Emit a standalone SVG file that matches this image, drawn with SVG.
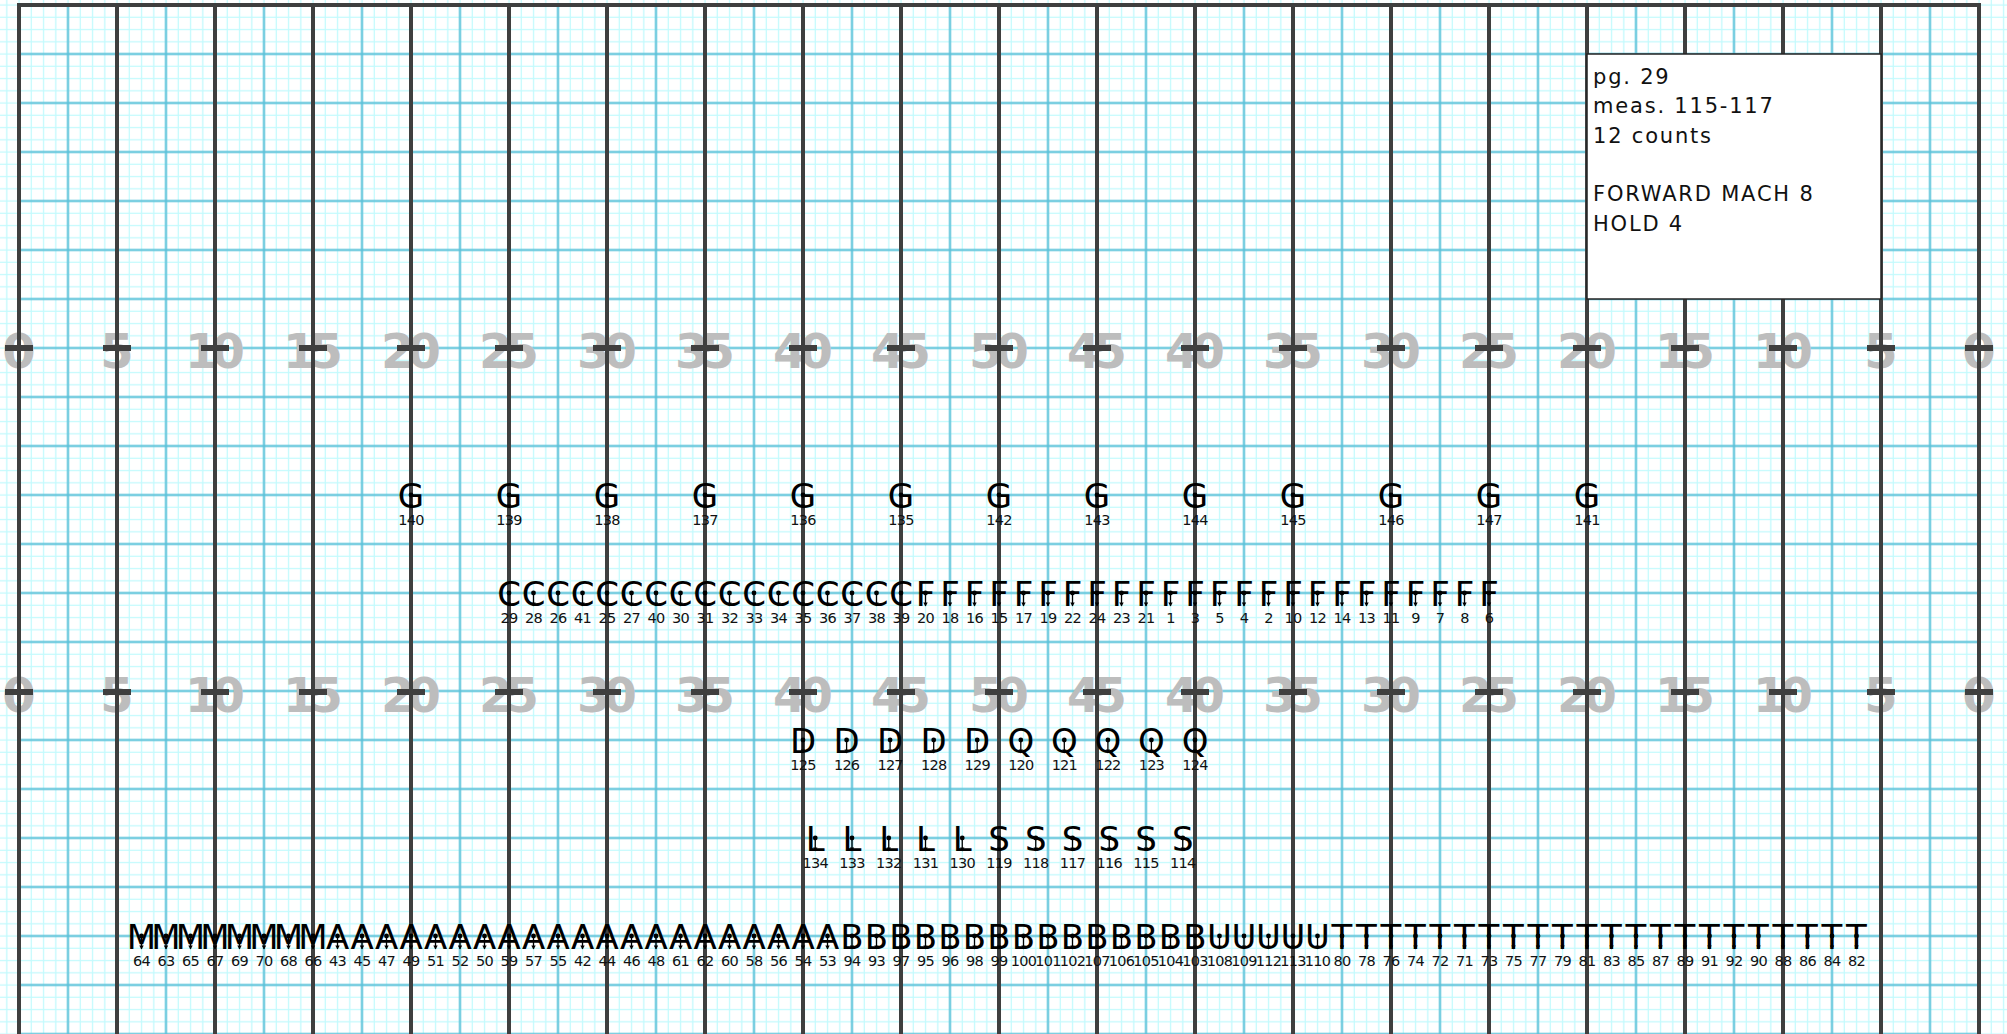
<svg xmlns="http://www.w3.org/2000/svg" xmlns:xlink="http://www.w3.org/1999/xlink" width="2007" height="1034" viewBox="0 0 2007 1034">
<style>
.s{font-family:"DejaVu Sans",sans-serif;font-size:34px;text-anchor:middle;fill:#000}
.l{font-family:"DejaVu Sans",sans-serif;font-size:14.5px;text-anchor:middle;letter-spacing:-0.8px;fill:#111}
.yn{font-family:"DejaVu Sans",sans-serif;font-weight:bold;font-size:48px;text-anchor:middle;letter-spacing:-7px;fill:#bdbdbd}
.bx{font-family:"DejaVu Sans",sans-serif;font-size:21px;letter-spacing:1.8px;fill:#111}
</style>
<defs>
<pattern id="light" patternUnits="userSpaceOnUse" x="12.875" y="-1.125" width="49" height="49">
<path d="M6.125 0V49M18.375 0V49M30.625 0V49M42.875 0V49M0 6.125H49M0 18.375H49M0 30.625H49M0 42.875H49" stroke="#c3fafd" stroke-width="1.3" fill="none"/>
</pattern>
<pattern id="med" patternUnits="userSpaceOnUse" x="-5.5" y="-19.5" width="49" height="49">
<path d="M24.5 0V49M0 24.5H49" stroke="#5cc0d8" stroke-width="2" fill="none"/>
</pattern>
<g id="pin">
<line x1="0" y1="0" x2="0" y2="13" stroke="#000" stroke-width="1.3"/>
<circle r="2.4" fill="#000"/>
<path d="M-2.2 9.5L0 13.5L2.2 9.5Z" fill="#000"/>
</g>
</defs>
<g id="field">
<rect x="0" y="0" width="2007" height="1034" fill="#fff"/>
<rect x="0" y="0" width="2007" height="1034" fill="url(#light)"/>
<rect x="19" y="5" width="1960" height="1029" fill="url(#med)"/>
<g id="yard-numbers" class="yn">
<text x="15.5" y="368">0</text><text x="113.5" y="368">5</text><text x="211.5" y="368">10</text><text x="309.5" y="368">15</text><text x="407.5" y="368">20</text><text x="505.5" y="368">25</text><text x="603.5" y="368">30</text><text x="701.5" y="368">35</text><text x="799.5" y="368">40</text><text x="897.5" y="368">45</text><text x="995.5" y="368">50</text><text x="1093.5" y="368">45</text><text x="1191.5" y="368">40</text><text x="1289.5" y="368">35</text><text x="1387.5" y="368">30</text><text x="1485.5" y="368">25</text><text x="1583.5" y="368">20</text><text x="1681.5" y="368">15</text><text x="1779.5" y="368">10</text><text x="1877.5" y="368">5</text><text x="1975.5" y="368">0</text>
<text x="15.5" y="712">0</text><text x="113.5" y="712">5</text><text x="211.5" y="712">10</text><text x="309.5" y="712">15</text><text x="407.5" y="712">20</text><text x="505.5" y="712">25</text><text x="603.5" y="712">30</text><text x="701.5" y="712">35</text><text x="799.5" y="712">40</text><text x="897.5" y="712">45</text><text x="995.5" y="712">50</text><text x="1093.5" y="712">45</text><text x="1191.5" y="712">40</text><text x="1289.5" y="712">35</text><text x="1387.5" y="712">30</text><text x="1485.5" y="712">25</text><text x="1583.5" y="712">20</text><text x="1681.5" y="712">15</text><text x="1779.5" y="712">10</text><text x="1877.5" y="712">5</text><text x="1975.5" y="712">0</text>
</g>
<path id="yard-lines" fill="none" stroke="#3f3f3f" stroke-width="4" d="M19 1034V5H1979V1034M117 5V1034M215 5V1034M313 5V1034M411 5V1034M509 5V1034M607 5V1034M705 5V1034M803 5V1034M901 5V1034M999 5V1034M1097 5V1034M1195 5V1034M1293 5V1034M1391 5V1034M1489 5V1034M1587 5V1034M1685 5V1034M1783 5V1034M1881 5V1034"/>
<path id="hashes" fill="none" stroke="#3f3f3f" stroke-width="6" d="M5 348H33M103 348H131M201 348H229M299 348H327M397 348H425M495 348H523M593 348H621M691 348H719M789 348H817M887 348H915M985 348H1013M1083 348H1111M1181 348H1209M1279 348H1307M1377 348H1405M1475 348H1503M1573 348H1601M1671 348H1699M1769 348H1797M1867 348H1895M1965 348H1993M5 692H33M103 692H131M201 692H229M299 692H327M397 692H425M495 692H523M593 692H621M691 692H719M789 692H817M887 692H915M985 692H1013M1083 692H1111M1181 692H1209M1279 692H1307M1377 692H1405M1475 692H1503M1573 692H1601M1671 692H1699M1769 692H1797M1867 692H1895M1965 692H1993"/>
</g>
<g id="info-box">
<rect x="1587" y="54" width="294" height="245" fill="#fff" stroke="#222" stroke-width="1.5"/>
<text class="bx" x="1593" y="84">pg. 29</text>
<text class="bx" x="1593" y="113.3">meas. 115-117</text>
<text class="bx" x="1593" y="142.6">12 counts</text>
<text class="bx" x="1593" y="201.2">FORWARD MACH 8</text>
<text class="bx" x="1593" y="230.5">HOLD 4</text>
</g>
<g id="row-G">
<g id="p140" transform="translate(411,495)"><text class="s" y="12.5">G</text><use href="#pin"/><text class="l" y="30">140</text></g>
<g id="p139" transform="translate(509,495)"><text class="s" y="12.5">G</text><use href="#pin"/><text class="l" y="30">139</text></g>
<g id="p138" transform="translate(607,495)"><text class="s" y="12.5">G</text><use href="#pin"/><text class="l" y="30">138</text></g>
<g id="p137" transform="translate(705,495)"><text class="s" y="12.5">G</text><use href="#pin"/><text class="l" y="30">137</text></g>
<g id="p136" transform="translate(803,495)"><text class="s" y="12.5">G</text><use href="#pin"/><text class="l" y="30">136</text></g>
<g id="p135" transform="translate(901,495)"><text class="s" y="12.5">G</text><use href="#pin"/><text class="l" y="30">135</text></g>
<g id="p142" transform="translate(999,495)"><text class="s" y="12.5">G</text><use href="#pin"/><text class="l" y="30">142</text></g>
<g id="p143" transform="translate(1097,495)"><text class="s" y="12.5">G</text><use href="#pin"/><text class="l" y="30">143</text></g>
<g id="p144" transform="translate(1195,495)"><text class="s" y="12.5">G</text><use href="#pin"/><text class="l" y="30">144</text></g>
<g id="p145" transform="translate(1293,495)"><text class="s" y="12.5">G</text><use href="#pin"/><text class="l" y="30">145</text></g>
<g id="p146" transform="translate(1391,495)"><text class="s" y="12.5">G</text><use href="#pin"/><text class="l" y="30">146</text></g>
<g id="p147" transform="translate(1489,495)"><text class="s" y="12.5">G</text><use href="#pin"/><text class="l" y="30">147</text></g>
<g id="p141" transform="translate(1587,495)"><text class="s" y="12.5">G</text><use href="#pin"/><text class="l" y="30">141</text></g>
</g>
<g id="row-CF">
<g id="p29" transform="translate(509,593)"><text class="s" y="12.5">C</text><use href="#pin"/><text class="l" y="30">29</text></g>
<g id="p28" transform="translate(533.5,593)"><text class="s" y="12.5">C</text><use href="#pin"/><text class="l" y="30">28</text></g>
<g id="p26" transform="translate(558,593)"><text class="s" y="12.5">C</text><use href="#pin"/><text class="l" y="30">26</text></g>
<g id="p41" transform="translate(582.5,593)"><text class="s" y="12.5">C</text><use href="#pin"/><text class="l" y="30">41</text></g>
<g id="p25" transform="translate(607,593)"><text class="s" y="12.5">C</text><use href="#pin"/><text class="l" y="30">25</text></g>
<g id="p27" transform="translate(631.5,593)"><text class="s" y="12.5">C</text><use href="#pin"/><text class="l" y="30">27</text></g>
<g id="p40" transform="translate(656,593)"><text class="s" y="12.5">C</text><use href="#pin"/><text class="l" y="30">40</text></g>
<g id="p30" transform="translate(680.5,593)"><text class="s" y="12.5">C</text><use href="#pin"/><text class="l" y="30">30</text></g>
<g id="p31" transform="translate(705,593)"><text class="s" y="12.5">C</text><use href="#pin"/><text class="l" y="30">31</text></g>
<g id="p32" transform="translate(729.5,593)"><text class="s" y="12.5">C</text><use href="#pin"/><text class="l" y="30">32</text></g>
<g id="p33" transform="translate(754,593)"><text class="s" y="12.5">C</text><use href="#pin"/><text class="l" y="30">33</text></g>
<g id="p34" transform="translate(778.5,593)"><text class="s" y="12.5">C</text><use href="#pin"/><text class="l" y="30">34</text></g>
<g id="p35" transform="translate(803,593)"><text class="s" y="12.5">C</text><use href="#pin"/><text class="l" y="30">35</text></g>
<g id="p36" transform="translate(827.5,593)"><text class="s" y="12.5">C</text><use href="#pin"/><text class="l" y="30">36</text></g>
<g id="p37" transform="translate(852,593)"><text class="s" y="12.5">C</text><use href="#pin"/><text class="l" y="30">37</text></g>
<g id="p38" transform="translate(876.5,593)"><text class="s" y="12.5">C</text><use href="#pin"/><text class="l" y="30">38</text></g>
<g id="p39" transform="translate(901,593)"><text class="s" y="12.5">C</text><use href="#pin"/><text class="l" y="30">39</text></g>
<g id="p20" transform="translate(925.5,593)"><text class="s" y="12.5">F</text><use href="#pin"/><text class="l" y="30">20</text></g>
<g id="p18" transform="translate(950,593)"><text class="s" y="12.5">F</text><use href="#pin"/><text class="l" y="30">18</text></g>
<g id="p16" transform="translate(974.5,593)"><text class="s" y="12.5">F</text><use href="#pin"/><text class="l" y="30">16</text></g>
<g id="p15" transform="translate(999,593)"><text class="s" y="12.5">F</text><use href="#pin"/><text class="l" y="30">15</text></g>
<g id="p17" transform="translate(1023.5,593)"><text class="s" y="12.5">F</text><use href="#pin"/><text class="l" y="30">17</text></g>
<g id="p19" transform="translate(1048,593)"><text class="s" y="12.5">F</text><use href="#pin"/><text class="l" y="30">19</text></g>
<g id="p22" transform="translate(1072.5,593)"><text class="s" y="12.5">F</text><use href="#pin"/><text class="l" y="30">22</text></g>
<g id="p24" transform="translate(1097,593)"><text class="s" y="12.5">F</text><use href="#pin"/><text class="l" y="30">24</text></g>
<g id="p23" transform="translate(1121.5,593)"><text class="s" y="12.5">F</text><use href="#pin"/><text class="l" y="30">23</text></g>
<g id="p21" transform="translate(1146,593)"><text class="s" y="12.5">F</text><use href="#pin"/><text class="l" y="30">21</text></g>
<g id="p1" transform="translate(1170.5,593)"><text class="s" y="12.5">F</text><use href="#pin"/><text class="l" y="30">1</text></g>
<g id="p3" transform="translate(1195,593)"><text class="s" y="12.5">F</text><use href="#pin"/><text class="l" y="30">3</text></g>
<g id="p5" transform="translate(1219.5,593)"><text class="s" y="12.5">F</text><use href="#pin"/><text class="l" y="30">5</text></g>
<g id="p4" transform="translate(1244,593)"><text class="s" y="12.5">F</text><use href="#pin"/><text class="l" y="30">4</text></g>
<g id="p2" transform="translate(1268.5,593)"><text class="s" y="12.5">F</text><use href="#pin"/><text class="l" y="30">2</text></g>
<g id="p10" transform="translate(1293,593)"><text class="s" y="12.5">F</text><use href="#pin"/><text class="l" y="30">10</text></g>
<g id="p12" transform="translate(1317.5,593)"><text class="s" y="12.5">F</text><use href="#pin"/><text class="l" y="30">12</text></g>
<g id="p14" transform="translate(1342,593)"><text class="s" y="12.5">F</text><use href="#pin"/><text class="l" y="30">14</text></g>
<g id="p13" transform="translate(1366.5,593)"><text class="s" y="12.5">F</text><use href="#pin"/><text class="l" y="30">13</text></g>
<g id="p11" transform="translate(1391,593)"><text class="s" y="12.5">F</text><use href="#pin"/><text class="l" y="30">11</text></g>
<g id="p9" transform="translate(1415.5,593)"><text class="s" y="12.5">F</text><use href="#pin"/><text class="l" y="30">9</text></g>
<g id="p7" transform="translate(1440,593)"><text class="s" y="12.5">F</text><use href="#pin"/><text class="l" y="30">7</text></g>
<g id="p8" transform="translate(1464.5,593)"><text class="s" y="12.5">F</text><use href="#pin"/><text class="l" y="30">8</text></g>
<g id="p6" transform="translate(1489,593)"><text class="s" y="12.5">F</text><use href="#pin"/><text class="l" y="30">6</text></g>
</g>
<g id="row-DQ">
<g id="p125" transform="translate(803,740)"><text class="s" y="12.5">D</text><use href="#pin"/><text class="l" y="30">125</text></g>
<g id="p126" transform="translate(846.6,740)"><text class="s" y="12.5">D</text><use href="#pin"/><text class="l" y="30">126</text></g>
<g id="p127" transform="translate(890.1,740)"><text class="s" y="12.5">D</text><use href="#pin"/><text class="l" y="30">127</text></g>
<g id="p128" transform="translate(933.7,740)"><text class="s" y="12.5">D</text><use href="#pin"/><text class="l" y="30">128</text></g>
<g id="p129" transform="translate(977.2,740)"><text class="s" y="12.5">D</text><use href="#pin"/><text class="l" y="30">129</text></g>
<g id="p120" transform="translate(1020.8,740)"><text class="s" y="12.5">Q</text><use href="#pin"/><text class="l" y="30">120</text></g>
<g id="p121" transform="translate(1064.3,740)"><text class="s" y="12.5">Q</text><use href="#pin"/><text class="l" y="30">121</text></g>
<g id="p122" transform="translate(1107.9,740)"><text class="s" y="12.5">Q</text><use href="#pin"/><text class="l" y="30">122</text></g>
<g id="p123" transform="translate(1151.4,740)"><text class="s" y="12.5">Q</text><use href="#pin"/><text class="l" y="30">123</text></g>
<g id="p124" transform="translate(1195,740)"><text class="s" y="12.5">Q</text><use href="#pin"/><text class="l" y="30">124</text></g>
</g>
<g id="row-LS">
<g id="p134" transform="translate(815.25,838)"><text class="s" y="12.5">L</text><use href="#pin"/><text class="l" y="30">134</text></g>
<g id="p133" transform="translate(852,838)"><text class="s" y="12.5">L</text><use href="#pin"/><text class="l" y="30">133</text></g>
<g id="p132" transform="translate(888.75,838)"><text class="s" y="12.5">L</text><use href="#pin"/><text class="l" y="30">132</text></g>
<g id="p131" transform="translate(925.5,838)"><text class="s" y="12.5">L</text><use href="#pin"/><text class="l" y="30">131</text></g>
<g id="p130" transform="translate(962.25,838)"><text class="s" y="12.5">L</text><use href="#pin"/><text class="l" y="30">130</text></g>
<g id="p119" transform="translate(999,838)"><text class="s" y="12.5">S</text><use href="#pin"/><text class="l" y="30">119</text></g>
<g id="p118" transform="translate(1035.75,838)"><text class="s" y="12.5">S</text><use href="#pin"/><text class="l" y="30">118</text></g>
<g id="p117" transform="translate(1072.5,838)"><text class="s" y="12.5">S</text><use href="#pin"/><text class="l" y="30">117</text></g>
<g id="p116" transform="translate(1109.25,838)"><text class="s" y="12.5">S</text><use href="#pin"/><text class="l" y="30">116</text></g>
<g id="p115" transform="translate(1146,838)"><text class="s" y="12.5">S</text><use href="#pin"/><text class="l" y="30">115</text></g>
<g id="p114" transform="translate(1182.75,838)"><text class="s" y="12.5">S</text><use href="#pin"/><text class="l" y="30">114</text></g>
</g>
<g id="row-bottom">
<g id="p64" transform="translate(141.5,936)"><text class="s" y="12.5">M</text><use href="#pin"/><text class="l" y="30">64</text></g>
<g id="p63" transform="translate(166,936)"><text class="s" y="12.5">M</text><use href="#pin"/><text class="l" y="30">63</text></g>
<g id="p65" transform="translate(190.5,936)"><text class="s" y="12.5">M</text><use href="#pin"/><text class="l" y="30">65</text></g>
<g id="p67" transform="translate(215,936)"><text class="s" y="12.5">M</text><use href="#pin"/><text class="l" y="30">67</text></g>
<g id="p69" transform="translate(239.5,936)"><text class="s" y="12.5">M</text><use href="#pin"/><text class="l" y="30">69</text></g>
<g id="p70" transform="translate(264,936)"><text class="s" y="12.5">M</text><use href="#pin"/><text class="l" y="30">70</text></g>
<g id="p68" transform="translate(288.5,936)"><text class="s" y="12.5">M</text><use href="#pin"/><text class="l" y="30">68</text></g>
<g id="p66" transform="translate(313,936)"><text class="s" y="12.5">M</text><use href="#pin"/><text class="l" y="30">66</text></g>
<g id="p43" transform="translate(337.5,936)"><text class="s" y="12.5">A</text><use href="#pin"/><text class="l" y="30">43</text></g>
<g id="p45" transform="translate(362,936)"><text class="s" y="12.5">A</text><use href="#pin"/><text class="l" y="30">45</text></g>
<g id="p47" transform="translate(386.5,936)"><text class="s" y="12.5">A</text><use href="#pin"/><text class="l" y="30">47</text></g>
<g id="p49" transform="translate(411,936)"><text class="s" y="12.5">A</text><use href="#pin"/><text class="l" y="30">49</text></g>
<g id="p51" transform="translate(435.5,936)"><text class="s" y="12.5">A</text><use href="#pin"/><text class="l" y="30">51</text></g>
<g id="p52" transform="translate(460,936)"><text class="s" y="12.5">A</text><use href="#pin"/><text class="l" y="30">52</text></g>
<g id="p50" transform="translate(484.5,936)"><text class="s" y="12.5">A</text><use href="#pin"/><text class="l" y="30">50</text></g>
<g id="p59" transform="translate(509,936)"><text class="s" y="12.5">A</text><use href="#pin"/><text class="l" y="30">59</text></g>
<g id="p57" transform="translate(533.5,936)"><text class="s" y="12.5">A</text><use href="#pin"/><text class="l" y="30">57</text></g>
<g id="p55" transform="translate(558,936)"><text class="s" y="12.5">A</text><use href="#pin"/><text class="l" y="30">55</text></g>
<g id="p42" transform="translate(582.5,936)"><text class="s" y="12.5">A</text><use href="#pin"/><text class="l" y="30">42</text></g>
<g id="p44" transform="translate(607,936)"><text class="s" y="12.5">A</text><use href="#pin"/><text class="l" y="30">44</text></g>
<g id="p46" transform="translate(631.5,936)"><text class="s" y="12.5">A</text><use href="#pin"/><text class="l" y="30">46</text></g>
<g id="p48" transform="translate(656,936)"><text class="s" y="12.5">A</text><use href="#pin"/><text class="l" y="30">48</text></g>
<g id="p61" transform="translate(680.5,936)"><text class="s" y="12.5">A</text><use href="#pin"/><text class="l" y="30">61</text></g>
<g id="p62" transform="translate(705,936)"><text class="s" y="12.5">A</text><use href="#pin"/><text class="l" y="30">62</text></g>
<g id="p60" transform="translate(729.5,936)"><text class="s" y="12.5">A</text><use href="#pin"/><text class="l" y="30">60</text></g>
<g id="p58" transform="translate(754,936)"><text class="s" y="12.5">A</text><use href="#pin"/><text class="l" y="30">58</text></g>
<g id="p56" transform="translate(778.5,936)"><text class="s" y="12.5">A</text><use href="#pin"/><text class="l" y="30">56</text></g>
<g id="p54" transform="translate(803,936)"><text class="s" y="12.5">A</text><use href="#pin"/><text class="l" y="30">54</text></g>
<g id="p53" transform="translate(827.5,936)"><text class="s" y="12.5">A</text><use href="#pin"/><text class="l" y="30">53</text></g>
<g id="p94" transform="translate(852,936)"><text class="s" y="12.5">B</text><use href="#pin"/><text class="l" y="30">94</text></g>
<g id="p93" transform="translate(876.5,936)"><text class="s" y="12.5">B</text><use href="#pin"/><text class="l" y="30">93</text></g>
<g id="p97" transform="translate(901,936)"><text class="s" y="12.5">B</text><use href="#pin"/><text class="l" y="30">97</text></g>
<g id="p95" transform="translate(925.5,936)"><text class="s" y="12.5">B</text><use href="#pin"/><text class="l" y="30">95</text></g>
<g id="p96" transform="translate(950,936)"><text class="s" y="12.5">B</text><use href="#pin"/><text class="l" y="30">96</text></g>
<g id="p98" transform="translate(974.5,936)"><text class="s" y="12.5">B</text><use href="#pin"/><text class="l" y="30">98</text></g>
<g id="p99" transform="translate(999,936)"><text class="s" y="12.5">B</text><use href="#pin"/><text class="l" y="30">99</text></g>
<g id="p100" transform="translate(1023.5,936)"><text class="s" y="12.5">B</text><use href="#pin"/><text class="l" y="30">100</text></g>
<g id="p101" transform="translate(1048,936)"><text class="s" y="12.5">B</text><use href="#pin"/><text class="l" y="30">101</text></g>
<g id="p102" transform="translate(1072.5,936)"><text class="s" y="12.5">B</text><use href="#pin"/><text class="l" y="30">102</text></g>
<g id="p107" transform="translate(1097,936)"><text class="s" y="12.5">B</text><use href="#pin"/><text class="l" y="30">107</text></g>
<g id="p106" transform="translate(1121.5,936)"><text class="s" y="12.5">B</text><use href="#pin"/><text class="l" y="30">106</text></g>
<g id="p105" transform="translate(1146,936)"><text class="s" y="12.5">B</text><use href="#pin"/><text class="l" y="30">105</text></g>
<g id="p104" transform="translate(1170.5,936)"><text class="s" y="12.5">B</text><use href="#pin"/><text class="l" y="30">104</text></g>
<g id="p103" transform="translate(1195,936)"><text class="s" y="12.5">B</text><use href="#pin"/><text class="l" y="30">103</text></g>
<g id="p108" transform="translate(1219.5,936)"><text class="s" y="12.5">U</text><use href="#pin"/><text class="l" y="30">108</text></g>
<g id="p109" transform="translate(1244,936)"><text class="s" y="12.5">U</text><use href="#pin"/><text class="l" y="30">109</text></g>
<g id="p112" transform="translate(1268.5,936)"><text class="s" y="12.5">U</text><use href="#pin"/><text class="l" y="30">112</text></g>
<g id="p113" transform="translate(1293,936)"><text class="s" y="12.5">U</text><use href="#pin"/><text class="l" y="30">113</text></g>
<g id="p110" transform="translate(1317.5,936)"><text class="s" y="12.5">U</text><use href="#pin"/><text class="l" y="30">110</text></g>
<g id="p80" transform="translate(1342,936)"><text class="s" y="12.5">T</text><use href="#pin"/><text class="l" y="30">80</text></g>
<g id="p78" transform="translate(1366.5,936)"><text class="s" y="12.5">T</text><use href="#pin"/><text class="l" y="30">78</text></g>
<g id="p76" transform="translate(1391,936)"><text class="s" y="12.5">T</text><use href="#pin"/><text class="l" y="30">76</text></g>
<g id="p74" transform="translate(1415.5,936)"><text class="s" y="12.5">T</text><use href="#pin"/><text class="l" y="30">74</text></g>
<g id="p72" transform="translate(1440,936)"><text class="s" y="12.5">T</text><use href="#pin"/><text class="l" y="30">72</text></g>
<g id="p71" transform="translate(1464.5,936)"><text class="s" y="12.5">T</text><use href="#pin"/><text class="l" y="30">71</text></g>
<g id="p73" transform="translate(1489,936)"><text class="s" y="12.5">T</text><use href="#pin"/><text class="l" y="30">73</text></g>
<g id="p75" transform="translate(1513.5,936)"><text class="s" y="12.5">T</text><use href="#pin"/><text class="l" y="30">75</text></g>
<g id="p77" transform="translate(1538,936)"><text class="s" y="12.5">T</text><use href="#pin"/><text class="l" y="30">77</text></g>
<g id="p79" transform="translate(1562.5,936)"><text class="s" y="12.5">T</text><use href="#pin"/><text class="l" y="30">79</text></g>
<g id="p81" transform="translate(1587,936)"><text class="s" y="12.5">T</text><use href="#pin"/><text class="l" y="30">81</text></g>
<g id="p83" transform="translate(1611.5,936)"><text class="s" y="12.5">T</text><use href="#pin"/><text class="l" y="30">83</text></g>
<g id="p85" transform="translate(1636,936)"><text class="s" y="12.5">T</text><use href="#pin"/><text class="l" y="30">85</text></g>
<g id="p87" transform="translate(1660.5,936)"><text class="s" y="12.5">T</text><use href="#pin"/><text class="l" y="30">87</text></g>
<g id="p89" transform="translate(1685,936)"><text class="s" y="12.5">T</text><use href="#pin"/><text class="l" y="30">89</text></g>
<g id="p91" transform="translate(1709.5,936)"><text class="s" y="12.5">T</text><use href="#pin"/><text class="l" y="30">91</text></g>
<g id="p92" transform="translate(1734,936)"><text class="s" y="12.5">T</text><use href="#pin"/><text class="l" y="30">92</text></g>
<g id="p90" transform="translate(1758.5,936)"><text class="s" y="12.5">T</text><use href="#pin"/><text class="l" y="30">90</text></g>
<g id="p88" transform="translate(1783,936)"><text class="s" y="12.5">T</text><use href="#pin"/><text class="l" y="30">88</text></g>
<g id="p86" transform="translate(1807.5,936)"><text class="s" y="12.5">T</text><use href="#pin"/><text class="l" y="30">86</text></g>
<g id="p84" transform="translate(1832,936)"><text class="s" y="12.5">T</text><use href="#pin"/><text class="l" y="30">84</text></g>
<g id="p82" transform="translate(1856.5,936)"><text class="s" y="12.5">T</text><use href="#pin"/><text class="l" y="30">82</text></g>
</g>
<g id="connectors"/>
</svg>
